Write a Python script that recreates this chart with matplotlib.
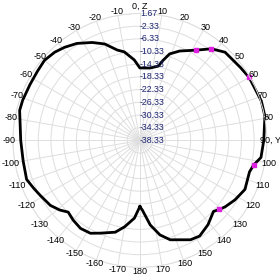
import numpy as np
import matplotlib.pyplot as plt

# pattern samples (angle in degrees, gain in dB)
angles_deg = [-180, -176, -170, -165, -157, -152, -146, -140, -135, -131, -126, -119,
              -114, -109, -100, -90, -76, -71, -63, -56, -50, -44, -39, -33, -26, -20,
              -14, -10, -4, 0, 8, 14, 16, 19, 24, 32, 38, 44, 54, 60, 72, 79, 90, 98,
              102, 106, 115, 122, 128, 131, 134, 141, 148, 153, 163, 168, 173, 178, 180]
gain_db = [-17.5, -13.8, -10.7, -8.4, -6.6, -5.2, -4.9, -5.6, -6.4, -4.9, -3.5, -2.5,
           -1.6, -0.6, -1.0, -0.8, 0.7, 0.7, 0.5, 0.6, 0.9, 0.3, -0.6, -1.9, -4.0, -6.0,
           -9.0, -10.0, -12.9, -15.5, -15.3, -14.2, -12.2, -9.5, -7.5, -4.8, -1.7, 0.3, 0.8,
           1.4, 1.9, 1.8, 0.7, 0.2, -1.6, -2.4, -1.8, -3.0, -4.3, -5.2, -6.1, -4.2, -2.8,
           -3.2, -5.6, -7.9, -11.5, -16.4, -17.5]

marker_angles = [32, 38, 60, 102, 131]
marker_db = [-4.8, -1.7, 1.4, -1.6, -5.2]

theta_ticks = list(range(0, 360, 10))
theta_labels = (['0, Z'] + [str(a) for a in range(10, 90, 10)] + ['90, Y']
                + [str(a) for a in range(100, 190, 10)]
                + [str(a) for a in range(-170, 0, 10)])
r_ticks = [1.67, -2.33, -6.33, -10.33, -14.33, -18.33, -22.33, -26.33, -30.33, -34.33, -38.33]

plt.rcParams['font.family'] = ['Liberation Sans', 'DejaVu Sans']

fig = plt.figure(figsize=(2.8, 2.8), dpi=100)
ax = fig.add_axes([0.046, 0.045, 0.907, 0.907], projection='polar')
ax.set_theta_zero_location('N')
ax.set_theta_direction(-1)
ax.set_ylim(-38.33, 1.67)

ax.set_xticks(np.deg2rad(theta_ticks))
ax.set_xticklabels([])
ax.set_yticks(r_ticks)
ax.set_yticklabels([])
ax.grid(True, color='#dedede', linewidth=0.7)
ax.spines['polar'].set_color('#dedede')
ax.spines['polar'].set_linewidth(0.7)

# angle labels sit just outside the rim (top one a little higher)
for a, lab in zip(theta_ticks, theta_labels):
    r_lab = 4.0 if a == 0 else 2.9
    ax.text(np.deg2rad(a), r_lab, lab, fontsize=6.5, color='black',
            ha='center', va='center', clip_on=False)

for r in r_ticks:
    ax.text(0.0, r, '%.2f' % r, fontsize=6.3, color='#1c2470',
            ha='left', va='center', clip_on=False)

ax.plot(np.deg2rad(angles_deg), gain_db, color='black', linewidth=2.0, clip_on=False)
ax.plot(np.deg2rad(marker_angles), marker_db, 's', color='#e020e0', markersize=2.5,
        clip_on=False)

fig.savefig('out.png', dpi=100)
